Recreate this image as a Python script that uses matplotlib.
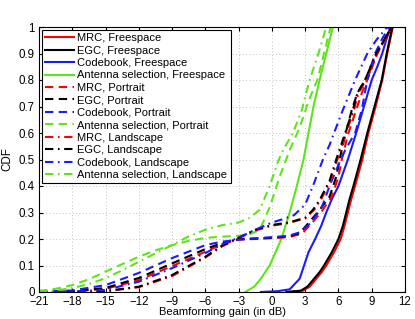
import matplotlib
matplotlib.use("Agg")
import matplotlib.pyplot as plt

plt.rcParams.update({
    "font.family": ["Liberation Sans", "DejaVu Sans"],
    "font.size": 8,
    "axes.unicode_minus": True,
})

RED, BLACK, BLUE, GREEN = "#ff0000", "#000000", "#1a1aff", "#5fe31a"
DASHED = (0, (4, 2.6))
DASHDOT = (0, (4, 2.2, 0.8, 2.2))

# ---- data (gain in dB, CDF) ----
mrc_free_x = [1.5, 2.8, 3.4, 4.0, 4.5, 4.9, 5.6, 6.2, 6.55, 6.85, 7.15, 7.5, 8.15, 8.7, 9.35, 9.95, 10.4, 10.9]
mrc_free_y = [0, 0.005, 0.02, 0.05, 0.075, 0.1, 0.15, 0.2, 0.25, 0.3, 0.35, 0.4, 0.5, 0.6, 0.7, 0.8, 0.9, 1.0]

egc_free_x = [1.3, 2.6, 3.2, 3.8, 4.3, 4.7, 5.4, 6.0, 6.4, 6.7, 7.0, 7.35, 8.0, 8.6, 9.25, 9.9, 10.35, 10.85]
egc_free_y = [0, 0.005, 0.02, 0.05, 0.075, 0.1, 0.15, 0.2, 0.25, 0.3, 0.35, 0.4, 0.5, 0.6, 0.7, 0.8, 0.9, 1.0]

cb_free_x = [-1.0, 0.5, 1.6, 2.5, 2.9, 3.3, 3.9, 4.45, 4.9, 5.4, 6.0, 6.85, 7.6, 8.3, 9.0, 9.5, 9.95, 10.3, 10.7]
cb_free_y = [0, 0.003, 0.01, 0.05, 0.1, 0.15, 0.2, 0.25, 0.3, 0.35, 0.4, 0.5, 0.6, 0.7, 0.8, 0.85, 0.9, 0.95, 1.0]

as_free_x = [-2.4, -1.6, -1.0, -0.2, 0.85, 1.6, 2.25, 2.85, 3.3, 3.75, 4.3, 4.9, 5.5]
as_free_y = [0, 0.02, 0.05, 0.1, 0.2, 0.3, 0.4, 0.5, 0.6, 0.7, 0.8, 0.9, 1.0]

mrc_port_x = [-21, -18, -15, -12, -9, -6, -4.5, -3, -1.5, 0, 1.5, 2.7, 3.6, 4.5, 5.4, 6.0, 6.35, 6.9, 7.6, 8.1, 8.6, 9.5, 10.8]
mrc_port_y = [0, 0.002, 0.012, 0.045, 0.098, 0.152, 0.18, 0.198, 0.2, 0.203, 0.207, 0.22, 0.26, 0.305, 0.36, 0.435, 0.51, 0.6, 0.687, 0.75, 0.8, 0.9, 1.0]

egc_port_x = [-21, -18, -15, -12, -9, -6, -4.5, -3, -1.5, 0, 1.5, 2.5, 3.4, 4.3, 5.2, 5.8, 6.15, 6.65, 7.2, 7.7, 8.4, 9.4, 10.8]
egc_port_y = [0, 0.003, 0.015, 0.053, 0.108, 0.162, 0.185, 0.2, 0.202, 0.205, 0.21, 0.222, 0.265, 0.31, 0.36, 0.435, 0.51, 0.6, 0.687, 0.75, 0.8, 0.9, 1.0]

cb_port_x = [-21, -18, -15, -12, -9, -6, -4.5, -3, -1.5, 0, 1.5, 2.5, 3.5, 4.5, 5.2, 6.0, 6.6, 7.5, 8.1, 8.6, 9.3, 10.0, 10.6]
cb_port_y = [0.001, 0.006, 0.026, 0.072, 0.128, 0.177, 0.19, 0.197, 0.202, 0.207, 0.212, 0.225, 0.26, 0.32, 0.4, 0.48, 0.535, 0.6, 0.687, 0.8, 0.9, 0.96, 1.0]

as_port_x = [-21, -19.5, -18, -16.5, -15, -13.5, -12, -10.5, -9, -7.5, -6, -4.5, -3, -2, -1.1, -0.2, 0.7, 1.6, 2.5, 3.3, 4.1, 4.7, 5.3]
as_port_y = [0.004, 0.012, 0.026, 0.048, 0.077, 0.105, 0.133, 0.157, 0.177, 0.193, 0.204, 0.209, 0.212, 0.218, 0.234, 0.32, 0.435, 0.535, 0.62, 0.72, 0.8, 0.9, 1.0]

mrc_land_x = [-21, -18, -15, -12, -9, -6, -4.5, -3, -1.5, 0, 1.5, 3.0, 3.8, 4.4, 5.3, 5.9, 6.7, 7.4, 7.8, 8.5, 9.5, 10.8]
mrc_land_y = [0, 0.001, 0.003, 0.018, 0.06, 0.13, 0.172, 0.203, 0.232, 0.25, 0.26, 0.278, 0.31, 0.347, 0.42, 0.5, 0.6, 0.687, 0.75, 0.8, 0.9, 1.0]

egc_land_x = [-21, -18, -15, -12, -9, -6, -4.5, -3, -1.5, 0, 1.5, 3.0, 3.7, 4.3, 5.2, 5.8, 6.6, 7.3, 7.7, 8.4, 9.4, 10.8]
egc_land_y = [0, 0.001, 0.003, 0.02, 0.064, 0.133, 0.175, 0.205, 0.235, 0.253, 0.262, 0.28, 0.31, 0.347, 0.42, 0.5, 0.6, 0.687, 0.75, 0.8, 0.9, 1.0]

cb_land_x = [-21, -18, -15, -12, -9, -6, -4.5, -3, -1.5, 0, 1.0, 2.0, 2.5, 3.0, 3.7, 4.6, 5.2, 5.6, 6.4, 7.5, 8.6, 9.4, 10.4]
cb_land_y = [0, 0.002, 0.008, 0.039, 0.09, 0.147, 0.18, 0.205, 0.235, 0.262, 0.275, 0.29, 0.31, 0.33, 0.4, 0.5, 0.555, 0.6, 0.687, 0.8, 0.9, 0.95, 1.0]

as_land_x = [-21, -19.5, -18, -16.5, -15, -13.5, -12, -10.5, -9, -7.5, -6, -4.5, -3, -2, -1.1, -0.2, 0.5, 1.0, 1.9, 2.7, 3.4, 4.2, 4.9]
as_land_y = [0.002, 0.006, 0.015, 0.03, 0.052, 0.082, 0.114, 0.146, 0.177, 0.21, 0.235, 0.252, 0.262, 0.28, 0.31, 0.40, 0.487, 0.535, 0.6, 0.687, 0.8, 0.9, 1.0]

x_ticks = list(range(-21, 13, 3))
y_ticks = [round(0.1 * i, 1) for i in range(11)]

series = [
    (mrc_free_x, mrc_free_y, RED, "-", "MRC, Freespace"),
    (egc_free_x, egc_free_y, BLACK, "-", "EGC, Freespace"),
    (cb_free_x, cb_free_y, BLUE, "-", "Codebook, Freespace"),
    (as_free_x, as_free_y, GREEN, "-", "Antenna selection, Freespace"),
    (mrc_port_x, mrc_port_y, RED, DASHED, "MRC, Portrait"),
    (egc_port_x, egc_port_y, BLACK, DASHED, "EGC, Portrait"),
    (cb_port_x, cb_port_y, BLUE, DASHED, "Codebook, Portrait"),
    (as_port_x, as_port_y, GREEN, DASHED, "Antenna selection, Portrait"),
    (mrc_land_x, mrc_land_y, RED, DASHDOT, "MRC, Landscape"),
    (egc_land_x, egc_land_y, BLACK, DASHDOT, "EGC, Landscape"),
    (cb_land_x, cb_land_y, BLUE, DASHDOT, "Codebook, Landscape"),
    (as_land_x, as_land_y, GREEN, DASHDOT, "Antenna selection, Landscape"),
]

fig = plt.figure(figsize=(4.15, 3.19), dpi=100)
ax = fig.add_axes([39 / 415, 1 - 292 / 319, 366 / 415, 265 / 319])

for xs, ys, col, ls, lab in series:
    ax.plot(xs, ys, color=col, linestyle=ls, linewidth=1.5, label=lab)

ax.set_xlim(-21, 12)
ax.set_ylim(0, 1)
ax.set_xticks(x_ticks)
ax.set_yticks(y_ticks)
ax.set_yticklabels(["0"] + [f"{v:.1f}" for v in y_ticks[1:-1]] + ["1"])
ax.tick_params(direction="in", top=True, right=True, length=3, labelsize=8.3)
ax.tick_params(axis="x", pad=3)
ax.tick_params(axis="y", pad=3)
ax.grid(True, linestyle=(0, (1, 3)), color="#b0b0b0", linewidth=0.6)
for sp in ax.spines.values():
    sp.set_linewidth(0.8)

ax.set_xlabel("Beamforming gain (in dB)", fontsize=8, labelpad=-0.5)
ax.set_ylabel("CDF", fontsize=8.3, labelpad=4)

leg = ax.legend(loc="upper left", fontsize=8, frameon=True, fancybox=False,
                edgecolor="black", framealpha=1, borderpad=0.3, labelspacing=0.22,
                handlelength=2.6, handletextpad=0.3, borderaxespad=0.25)
leg.get_frame().set_linewidth(0.8)

fig.savefig("out.png", dpi=100)
